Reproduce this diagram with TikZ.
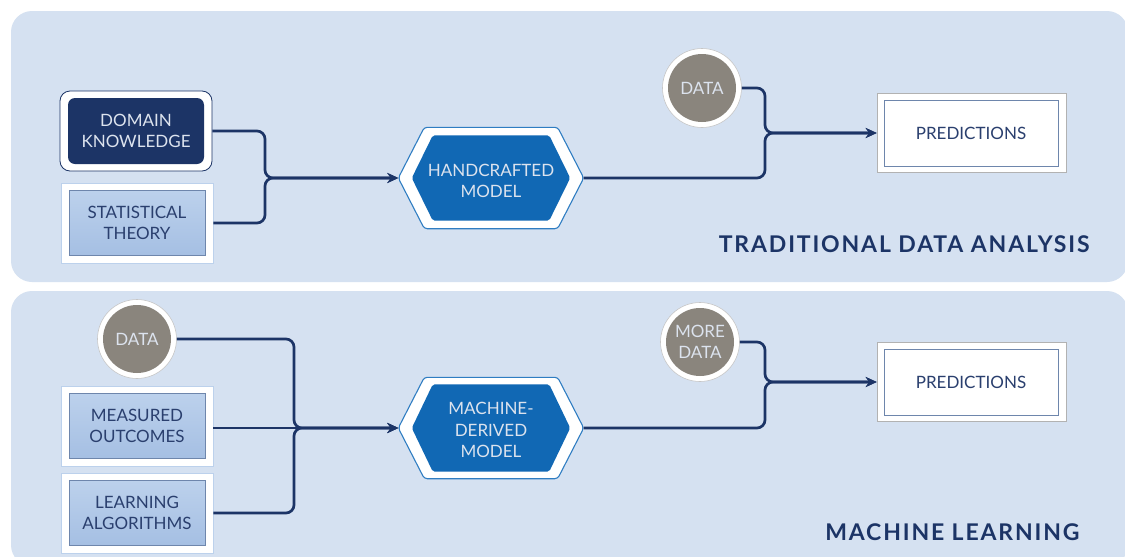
\documentclass[tikz,border=0pt]{standalone}
\usepackage{fontspec}
\setmainfont{Lato}
\usetikzlibrary{arrows.meta}
\definecolor{panelbg}{HTML}{D5E1F1}
\definecolor{navy}{HTML}{1C3466}
\definecolor{hexblue}{HTML}{1168B4}
\definecolor{hexline}{HTML}{2F7DC2}
\definecolor{boxtop}{HTML}{BCD1EC}
\definecolor{boxbot}{HTML}{A5BFE3}
\definecolor{boxline}{HTML}{6E86AC}
\definecolor{circgray}{HTML}{8A857D}
\definecolor{lighttext}{HTML}{DCE3EE}
\definecolor{bodytext}{HTML}{2A3F6E}
\begin{document}
\begin{tikzpicture}[x=1pt,y=-1pt,
  txt/.style={align=center,font=\fontsize{17}{21.5}\selectfont},
  panelbox/.style={fill=panelbg,rounded corners=21},
  outerbox/.style={fill=white,draw=#1,line width=0.8,minimum width=152,minimum height=80,inner sep=0},
  darkbox/.style={txt,fill=navy,rounded corners=7,minimum width=136,minimum height=66,text=lighttext},
  lightbox/.style={txt,top color=boxtop,bottom color=boxbot,draw=boxline,line width=0.8,minimum width=136,minimum height=65,text=bodytext},
  ringnode/.style={circle,fill=white,draw=gray!45,line width=0.6,minimum size=79,inner sep=0},
  datanode/.style={txt,circle,fill=circgray,minimum size=68,inner sep=0,text=lighttext},
  hexholder/.style={minimum width=#1,inner sep=0},
  hexouter/.style={fill=white,draw=hexline,line width=1.1,rounded corners=3},
  hexinner/.style={fill=hexblue,rounded corners=2},
  hextext/.style={txt,text=lighttext},
  predouter/.style={fill=white,draw=gray!60,line width=1.6,minimum width=189,minimum height=79,inner sep=0},
  predinner/.style={txt,draw=boxline,line width=0.9,minimum width=174,minimum height=66,text=bodytext},
  link/.style={draw=navy,line width=2.7,rounded corners=8},
  arr/.style={link,-{Stealth[length=11pt,width=10pt]}},
  titletext/.style={anchor=east,text=navy,font=\fontsize{23}{27}\bfseries\selectfont\addfontfeatures{LetterSpace=8}}
]
\useasboundingbox (0,0) rectangle (1125,557);
\clip (0,0) rectangle (1125,557);
\fill[white] (0,0) rectangle (1125,557);
% panels
\path[panelbox] (11,11) rectangle (1128,282);
\path[panelbox] (11,291) rectangle (1128,566);

% ---------- top panel ----------
\node[outerbox=navy,rounded corners=10] (dko) at (136,131) {};
\node[darkbox] (dk) at (136,131) {DOMAIN\\KNOWLEDGE};
\node[outerbox=boxtop] (sto) at (137,223) {};
\node[lightbox] (st) at (137,223) {STATISTICAL\\THEORY};

\node[hexholder=185,minimum height=101] (h1o) at (491,178) {};
\node[hexholder=158,minimum height=85] (h1i) at (491,178) {};
\path[hexouter] (h1o.west) -- ([xshift=26]h1o.north west) -- ([xshift=-26]h1o.north east) -- (h1o.east) -- ([xshift=-26]h1o.south east) -- ([xshift=26]h1o.south west) -- cycle;
\path[hexinner] (h1i.west) -- ([xshift=21]h1i.north west) -- ([xshift=-21]h1i.north east) -- (h1i.east) -- ([xshift=-21]h1i.south east) -- ([xshift=21]h1i.south west) -- cycle;
\node[hextext] (h1) at (491,181) {HANDCRAFTED\\MODEL};

\node[ringnode] (d1o) at (702,88) {};
\node[datanode] (d1) at (702,88) {DATA};

\node[predouter] (p1o) at (972,133) {};
\node[predinner] (p1) at (971,133) {PREDICTIONS};

\coordinate (m1) at (265,178);
\coordinate (m2) at (765,133);
\draw[arr] (dko.east) -| (m1) -- (h1o.west);
\draw[arr] (sto.east) -| (m1) -- (h1o.west);
\draw[arr] (h1o.east) -| (m2) -- (p1o.west);
\draw[arr] (d1o.east) -| (m2) -- (p1o.west);

\node[titletext] (t1) at (1093,244) {TRADITIONAL DATA ANALYSIS};

% ---------- bottom panel ----------
\node[ringnode] (d2o) at (137,339) {};
\node[datanode] (d2) at (137,339) {DATA};
\node[outerbox=boxtop] (moo) at (137,426) {};
\node[lightbox] (mo) at (137,426) {MEASURED\\OUTCOMES};
\node[outerbox=boxtop] (lao) at (137,513) {};
\node[lightbox] (la) at (137,513) {LEARNING\\ALGORITHMS};

\node[hexholder=185,minimum height=101] (h2o) at (491,428) {};
\node[hexholder=158,minimum height=87] (h2i) at (491,428) {};
\path[hexouter] (h2o.west) -- ([xshift=26]h2o.north west) -- ([xshift=-26]h2o.north east) -- (h2o.east) -- ([xshift=-26]h2o.south east) -- ([xshift=26]h2o.south west) -- cycle;
\path[hexinner] (h2i.west) -- ([xshift=21]h2i.north west) -- ([xshift=-21]h2i.north east) -- (h2i.east) -- ([xshift=-21]h2i.south east) -- ([xshift=21]h2i.south west) -- cycle;
\node[hextext] (h2) at (491,430) {MACHINE-\\DERIVED\\MODEL};

\node[ringnode] (d3o) at (700,342) {};
\node[datanode] (d3) at (700,342) {MORE\\DATA};

\node[predouter] (p2o) at (972,382) {};
\node[predinner] (p2) at (971,382) {PREDICTIONS};

\coordinate (m3) at (294,428);
\coordinate (m4) at (765,382);
\draw[arr] (d2o.east) -| (m3) -- (h2o.west);
\draw[arr] (moo.east |- m3) -- (h2o.west);
\draw[arr] (lao.east) -| (m3) -- (h2o.west);
\draw[arr] (h2o.east) -| (m4) -- (p2o.west);
\draw[arr] (d3o.east) -| (m4) -- (p2o.west);

\node[titletext] (t2) at (1083,532) {MACHINE LEARNING};
\end{tikzpicture}
\end{document}
